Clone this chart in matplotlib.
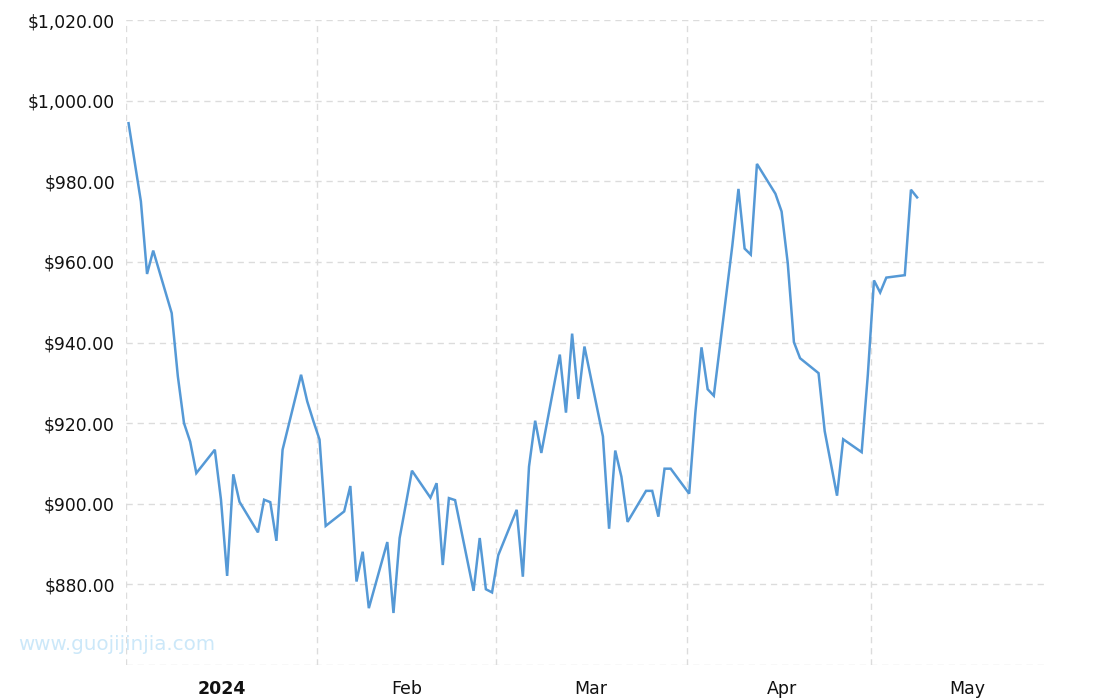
import matplotlib
matplotlib.use("Agg")
import matplotlib.pyplot as plt
import pandas as pd

dates = [
    "2024-01-01", "2024-01-03", "2024-01-04", "2024-01-05",
    "2024-01-08", "2024-01-09", "2024-01-10", "2024-01-11", "2024-01-12",
    "2024-01-15", "2024-01-16", "2024-01-17", "2024-01-18", "2024-01-19",
    "2024-01-22", "2024-01-23", "2024-01-24", "2024-01-25", "2024-01-26",
    "2024-01-29", "2024-01-30", "2024-01-31", "2024-02-01", "2024-02-02",
    "2024-02-05", "2024-02-06", "2024-02-07", "2024-02-08", "2024-02-09",
    "2024-02-12", "2024-02-13", "2024-02-14", "2024-02-15", "2024-02-16",
    "2024-02-19", "2024-02-20", "2024-02-21", "2024-02-22", "2024-02-23",
    "2024-02-26", "2024-02-27", "2024-02-28", "2024-02-29", "2024-03-01",
    "2024-03-04", "2024-03-05", "2024-03-06", "2024-03-07", "2024-03-08",
    "2024-03-11", "2024-03-12", "2024-03-13", "2024-03-14", "2024-03-15",
    "2024-03-18", "2024-03-19", "2024-03-20", "2024-03-21", "2024-03-22",
    "2024-03-25", "2024-03-26", "2024-03-27", "2024-03-28", "2024-03-29",
    "2024-04-01", "2024-04-02", "2024-04-03", "2024-04-04", "2024-04-05",
    "2024-04-08", "2024-04-09", "2024-04-10", "2024-04-11", "2024-04-12",
    "2024-04-15", "2024-04-16", "2024-04-17", "2024-04-18", "2024-04-19",
    "2024-04-22", "2024-04-23", "2024-04-24", "2024-04-25", "2024-04-26",
    "2024-04-29", "2024-04-30", "2024-05-01", "2024-05-02", "2024-05-03",
    "2024-05-06", "2024-05-07", "2024-05-08",
]
prices = [
    994.4, 975.0, 957.0, 962.8,
    947.3, 931.6, 920.0, 915.4, 907.6,
    913.4, 901.0, 882.1, 907.3, 900.5,
    892.9, 901.0, 900.4, 890.8, 913.4,
    932.0, 925.4, 920.5, 915.9, 894.5,
    898.1, 904.4, 880.7, 888.1, 874.1,
    890.5, 872.9, 891.5, 899.8, 908.2,
    901.5, 905.1, 884.8, 901.4, 900.9,
    878.4, 891.5, 878.8, 878.0, 887.2,
    898.5, 881.9, 909.2, 920.6, 912.6,
    937.0, 922.6, 942.2, 926.0, 939.0,
    916.7, 893.8, 913.2, 906.7, 895.5,
    903.2, 903.2, 896.8, 908.7, 908.7,
    902.5, 922.5, 938.8, 928.4, 926.8,
    964.0, 978.1, 963.3, 961.8, 984.3,
    976.9, 972.5, 959.7, 940.1, 936.1,
    932.4, 918.0, 910.0, 902.0, 916.0,
    912.8, 932.0, 955.4, 952.4, 956.1,
    956.7, 977.9, 976.0,
]
y_ticks = [860, 880, 900, 920, 940, 960, 980, 1000, 1020]
month_starts = ["2024-01-01", "2024-02-01", "2024-03-01", "2024-04-01", "2024-05-01"]
label_dates = ["2024-01-16 12:00", "2024-02-15 12:00", "2024-03-16 12:00",
               "2024-04-16 12:00", "2024-05-16 12:00"]
x_labels = ["2024", "Feb", "Mar", "Apr", "May"]
watermark = "www.guojijinjia.com"

line_color = "#5599d6"
grid_color = "#dcdcdc"

fig = plt.figure(figsize=(11.1, 7.0), dpi=100)
ax = fig.add_axes([126 / 1110, 35 / 700, 921 / 1110, 645 / 700])

x = pd.to_datetime(dates) + pd.Timedelta(hours=10)
ax.plot(x, prices, color=line_color, linewidth=1.8, solid_joinstyle="miter",
        solid_capstyle="projecting", zorder=3)

ax.set_xlim(pd.Timestamp("2024-01-01"), pd.Timestamp("2024-05-29 12:00"))
ax.set_ylim(860, 1020)

for s in ax.spines.values():
    s.set_visible(False)

dash = (0, (4.5, 3.5))
ax.set_yticks(y_ticks)
ax.set_yticklabels(["" if v == 860 else "${:,.2f}".format(v) for v in y_ticks])
ax.tick_params(axis="y", length=0, pad=8, labelsize=12.3, labelcolor="#111111")
for v in y_ticks:
    ax.axhline(v, color=grid_color, linewidth=1.0, linestyle=dash, zorder=1)

ms = pd.to_datetime(month_starts)
ax.set_xticks(ms)
ax.set_xticklabels([""] * len(ms))
ax.tick_params(axis="x", which="major", length=0)
for d in ms:
    ax.axvline(d, color=grid_color, linewidth=1.0, linestyle=dash, zorder=1)

ld = pd.to_datetime(label_dates)
ax.set_xticks(ld, minor=True)
ax.set_xticklabels(x_labels, minor=True)
ax.tick_params(axis="x", which="minor", length=0, pad=11, labelsize=12.5, labelcolor="#111111")
for lbl in ax.get_xticklabels(minor=True):
    if lbl.get_text() == "2024":
        lbl.set_fontweight("bold")

fig.text(18 / 1110, 1 - 645 / 700, watermark, color="#cce8f9", fontsize=14.3,
         ha="left", va="center")

fig.savefig("out.png", dpi=100)
